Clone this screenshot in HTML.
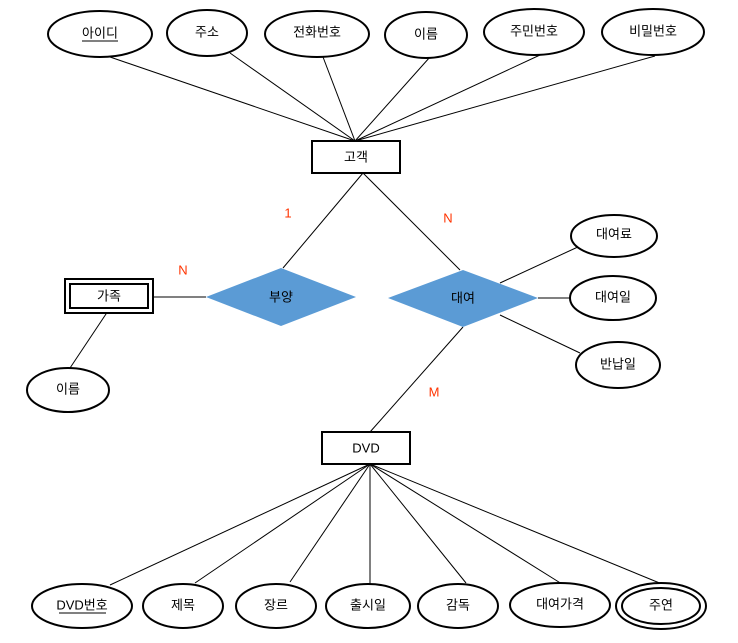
<!DOCTYPE html>
<html><head><meta charset="utf-8"><style>
body{margin:0;background:#fff}
svg text{font-family:"Liberation Sans","Noto Sans CJK KR",sans-serif;font-size:13px;text-anchor:middle;dominant-baseline:central;fill:#000}
</style></head><body>
<svg width="738" height="638" viewBox="0 0 738 638" xmlns="http://www.w3.org/2000/svg">
<g stroke="#000" stroke-width="1" fill="none">
<line x1="110" y1="57" x2="355" y2="141"/>
<line x1="230" y1="53" x2="355" y2="141"/>
<line x1="323" y1="57" x2="355" y2="141"/>
<line x1="430" y1="57" x2="355" y2="141"/>
<line x1="540" y1="55" x2="355" y2="141"/>
<line x1="655" y1="56" x2="355" y2="141"/>
<line x1="363" y1="173" x2="283" y2="268"/>
<line x1="363" y1="173" x2="460" y2="270"/>
<line x1="153" y1="297" x2="206" y2="297"/>
<line x1="108" y1="311" x2="70" y2="368"/>
<line x1="500" y1="283" x2="580" y2="246"/>
<line x1="538" y1="298" x2="570" y2="298"/>
<line x1="500" y1="315" x2="580" y2="353"/>
<line x1="463" y1="327" x2="370" y2="432"/>
<line x1="370" y1="464" x2="110" y2="585"/>
<line x1="370" y1="464" x2="195" y2="583"/>
<line x1="370" y1="464" x2="290" y2="582"/>
<line x1="370" y1="464" x2="370" y2="584"/>
<line x1="370" y1="464" x2="466" y2="583"/>
<line x1="370" y1="464" x2="562" y2="584"/>
<line x1="370" y1="464" x2="662" y2="584"/>
</g>
<g stroke="#000" stroke-width="2" fill="#fff">
<ellipse cx="100" cy="34" rx="52" ry="23"/>
<ellipse cx="207" cy="33" rx="40" ry="23"/>
<ellipse cx="317" cy="34" rx="52" ry="23"/>
<ellipse cx="426" cy="35" rx="41" ry="23"/>
<ellipse cx="534" cy="32" rx="50" ry="23"/>
<ellipse cx="653" cy="32" rx="51" ry="23"/>
<rect x="312" y="141" width="88" height="32"/>
<rect x="65" y="279" width="88" height="34"/>
<rect x="70" y="284" width="78" height="24"/>
<ellipse cx="68" cy="390" rx="41" ry="22"/>
<ellipse cx="614" cy="236" rx="43" ry="21"/>
<ellipse cx="613" cy="298" rx="43" ry="22"/>
<ellipse cx="618" cy="365" rx="42" ry="23"/>
<rect x="322" y="432" width="88" height="32"/>
<ellipse cx="82" cy="606" rx="50" ry="22"/>
<ellipse cx="183" cy="606" rx="40" ry="22"/>
<ellipse cx="276" cy="606" rx="40" ry="22"/>
<ellipse cx="368" cy="606" rx="42" ry="22"/>
<ellipse cx="458" cy="606" rx="40" ry="22"/>
<ellipse cx="560" cy="605" rx="50" ry="22"/>
<ellipse cx="661" cy="606" rx="45" ry="23"/>
<ellipse cx="661" cy="606" rx="39" ry="18"/>
</g>
<polygon points="206,297 281,268 356,297 281,326" fill="#5b9bd5"/>
<polygon points="388,298 463,270 538,298 463,327" fill="#5b9bd5"/>
<text x="100" y="33">아이디</text>
<line x1="82" y1="41" x2="118" y2="41" stroke="#000"/>
<text x="207" y="32">주소</text>
<text x="317" y="32">전화번호</text>
<text x="426" y="34">이름</text>
<text x="534" y="31">주민번호</text>
<text x="653" y="31">비밀번호</text>
<text x="356" y="157">고객</text>
<text x="109" y="296">가족</text>
<text x="68" y="389">이름</text>
<text x="281" y="297">부양</text>
<text x="463" y="298">대여</text>
<text x="614" y="234">대여료</text>
<text x="613" y="297">대여일</text>
<text x="618" y="364">반납일</text>
<text x="366" y="448">DVD</text>
<text x="82" y="605">DVD번호</text>
<line x1="59" y1="613" x2="106" y2="613" stroke="#000"/>
<text x="183" y="605">제목</text>
<text x="276" y="605">장르</text>
<text x="368" y="605">출시일</text>
<text x="458" y="605">감독</text>
<text x="560" y="604">대여가격</text>
<text x="661" y="605">주연</text>
<text x="288" y="213" style="fill:#ff3300">1</text>
<text x="448" y="218" style="fill:#ff3300">N</text>
<text x="183" y="270" style="fill:#ff3300">N</text>
<text x="434" y="392" style="fill:#ff3300">M</text>
</svg>
</body></html>
